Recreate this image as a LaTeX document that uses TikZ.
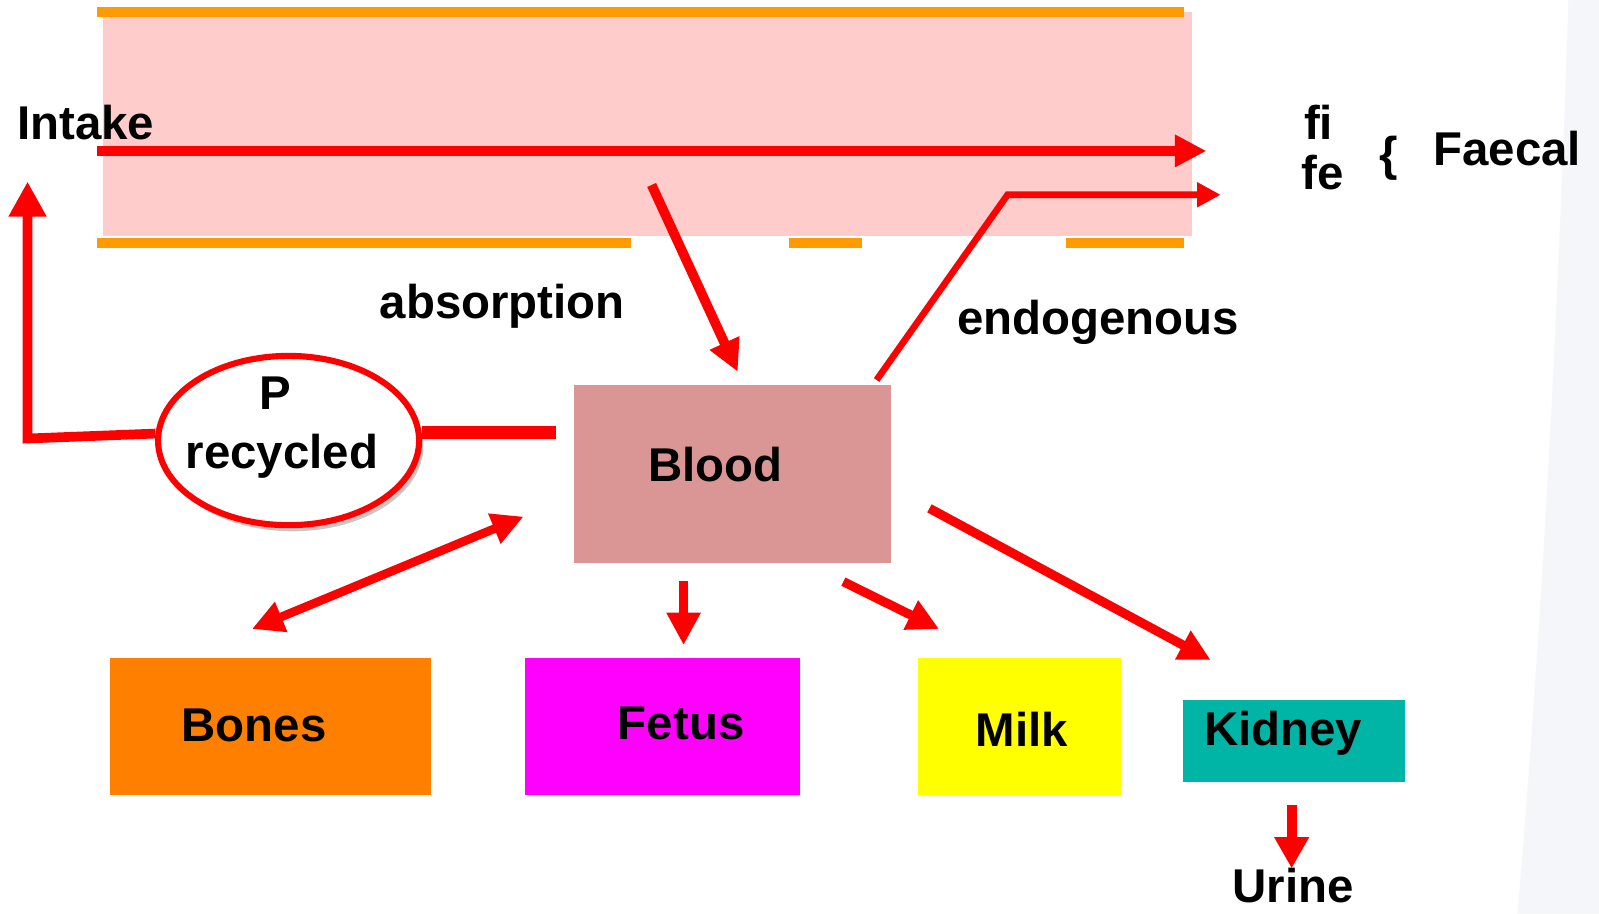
\documentclass[tikz,border=0pt]{standalone}
\usepackage{fontspec}
\setmainfont{Liberation Sans}[Ligatures=NoCommon]
\usetikzlibrary{arrows.meta,shapes.geometric,shadows}
\definecolor{barorange}{RGB}{255,155,0}
\definecolor{gutpink}{RGB}{255,204,204}
\definecolor{bloodc}{RGB}{217,150,148}
\definecolor{bonesc}{RGB}{255,128,0}
\definecolor{fetusc}{RGB}{255,0,255}
\definecolor{milkc}{RGB}{255,255,0}
\definecolor{kidneyc}{RGB}{0,181,165}
\definecolor{bgfaint}{RGB}{245,246,250}
\begin{document}
\begin{tikzpicture}[x=1pt,y=-1pt,
  lbl/.style={anchor=base, inner sep=0pt, font=\bfseries\fontsize{46.5}{50}\selectfont},
  boxnode/.style={rectangle, inner sep=0pt, draw=none, anchor=north west},
  bartile/.style={fill=barorange},
  redpath/.style={draw=red, line width=#1},
  tipbig/.style={-{Triangle[length=31pt,width=30pt]}}
]
% background
\fill[white] (0,0) rectangle (1568,896);
\fill[bgfaint] (1538,0) .. controls (1525,400) and (1505,700) .. (1488,896) -- (1568,896) -- (1568,0) -- cycle;
\useasboundingbox (0,0) rectangle (1568,896);

% gut
\fill[gutpink] (101,12) rectangle (1169,231);
\fill[bartile] (95.5,7) rectangle (1161,17);
\fill[bartile] (95.5,233) rectangle (619,243.5);
\fill[bartile] (774,233) rectangle (845.3,243.5);
\fill[bartile] (1045,233) rectangle (1161,243.5);

% boxes
\node[boxnode, fill=bloodc, minimum width=311pt, minimum height=175pt] (blood) at (563,376.9) {};
\node[boxnode, fill=bonesc, minimum width=314.6pt, minimum height=134.4pt] (bones) at (108,645.2) {};
\node[boxnode, fill=fetusc, minimum width=269.6pt, minimum height=134.4pt] (fetus) at (514.8,645.2) {};
\node[boxnode, fill=milkc, minimum width=198.9pt, minimum height=134.4pt] (milk) at (900.4,645.2) {};
\node[boxnode, fill=kidneyc, minimum width=217.4pt, minimum height=80.1pt] (kidney) at (1160.2,686.4) {};

% recycled ellipse
\node[ellipse, draw=red, line width=6pt, fill=white, minimum width=256pt, minimum height=166pt, inner sep=0pt,
  drop shadow={shadow xshift=4pt, shadow yshift=-6pt, opacity=0.22, fill=black}] (ell) at (283,432) {};

% coordinates for free connector ends
\coordinate (mainS) at (95.5,148);
\coordinate (mainE) at (1183,148);
\coordinate (endA) at (859.6,372.6);
\coordinate (endC) at (988,191);
\coordinate (endB) at (1197,191);
\coordinate (absA) at (639,181.4);
\coordinate (absB) at (723.4,364.5);
\coordinate (loopC) at (27,430);
\coordinate (loopB) at (27,178);
\coordinate (bloodL) at (545,424);
\coordinate (dblA) at (247.1,616.8);
\coordinate (dblB) at (513.4,506.6);
\coordinate (fetA) at (670.3,569.7);
\coordinate (fetB) at (670.3,632.5);
\coordinate (milkA) at (827,570.4);
\coordinate (milkB) at (920.9,616.8);
\coordinate (kidA) at (911.4,498.5);
\coordinate (kidB) at (1187.2,647.2);
\coordinate (urA) at (1266.6,789.4);
\coordinate (urB) at (1266.6,851.5);

% connectors
\draw[redpath=9.8pt, tipbig] (mainS) -- (mainE);
\draw[redpath=6.5pt, -{Triangle[length=23pt,width=23pt]}] (endA) -- (endC) -- (endB);
\draw[redpath=9.5pt, tipbig] (absA) -- (absB);
\draw[redpath=9.5pt, -{Triangle[length=34.5pt,width=35pt]}] (ell.177) -- (loopC) -- (loopB);
\draw[redpath=12pt] (bloodL -| ell.east) -- (bloodL);
\draw[redpath=8.5pt, {Triangle[length=31pt,width=30pt]}-{Triangle[length=31pt,width=30pt]}] (dblA) -- (dblB);
\draw[redpath=9.5pt, -{Triangle[length=31.7pt,width=31.5pt]}] (fetA) -- (fetB);
\draw[redpath=9pt, tipbig] (milkA) -- (milkB);
\draw[redpath=9pt, tipbig] (kidA) -- (kidB);
\draw[redpath=10pt, -{Triangle[length=30.5pt,width=32pt]}] (urA) -- (urB);

% texts
\node[lbl] (intake) at (84,136.6) {Intake};
\node[lbl] (fi) at (1293,137) {fi};
\node[lbl] (fe) at (1297.4,186) {fe};
\node[lbl] (brace) at (1361.5,167) {\{};
\node[lbl] (faecal) at (1478,162) {Faecal};
\node[lbl] (absorption) at (492.5,312) {absorption};
\node[lbl] (endog) at (1077,328) {endogenous};
\node[lbl] (ptext) at (270,402) {P};
\node[lbl] (rectext) at (276.5,459) {recycled};
\node[lbl] (bloodtext) at (701.5,472.3) {Blood};
\node[lbl] (bonestext) at (249,727.3) {Bones};
\node[lbl] (fetustext) at (668,725.6) {Fetus};
\node[lbl] (milktext) at (1001.8,732) {Milk};
\node[lbl] (kidneytext) at (1258.3,730.6) {Kidney};
\node[lbl] (urine) at (1268,885) {Urine};
\end{tikzpicture}
\end{document}
